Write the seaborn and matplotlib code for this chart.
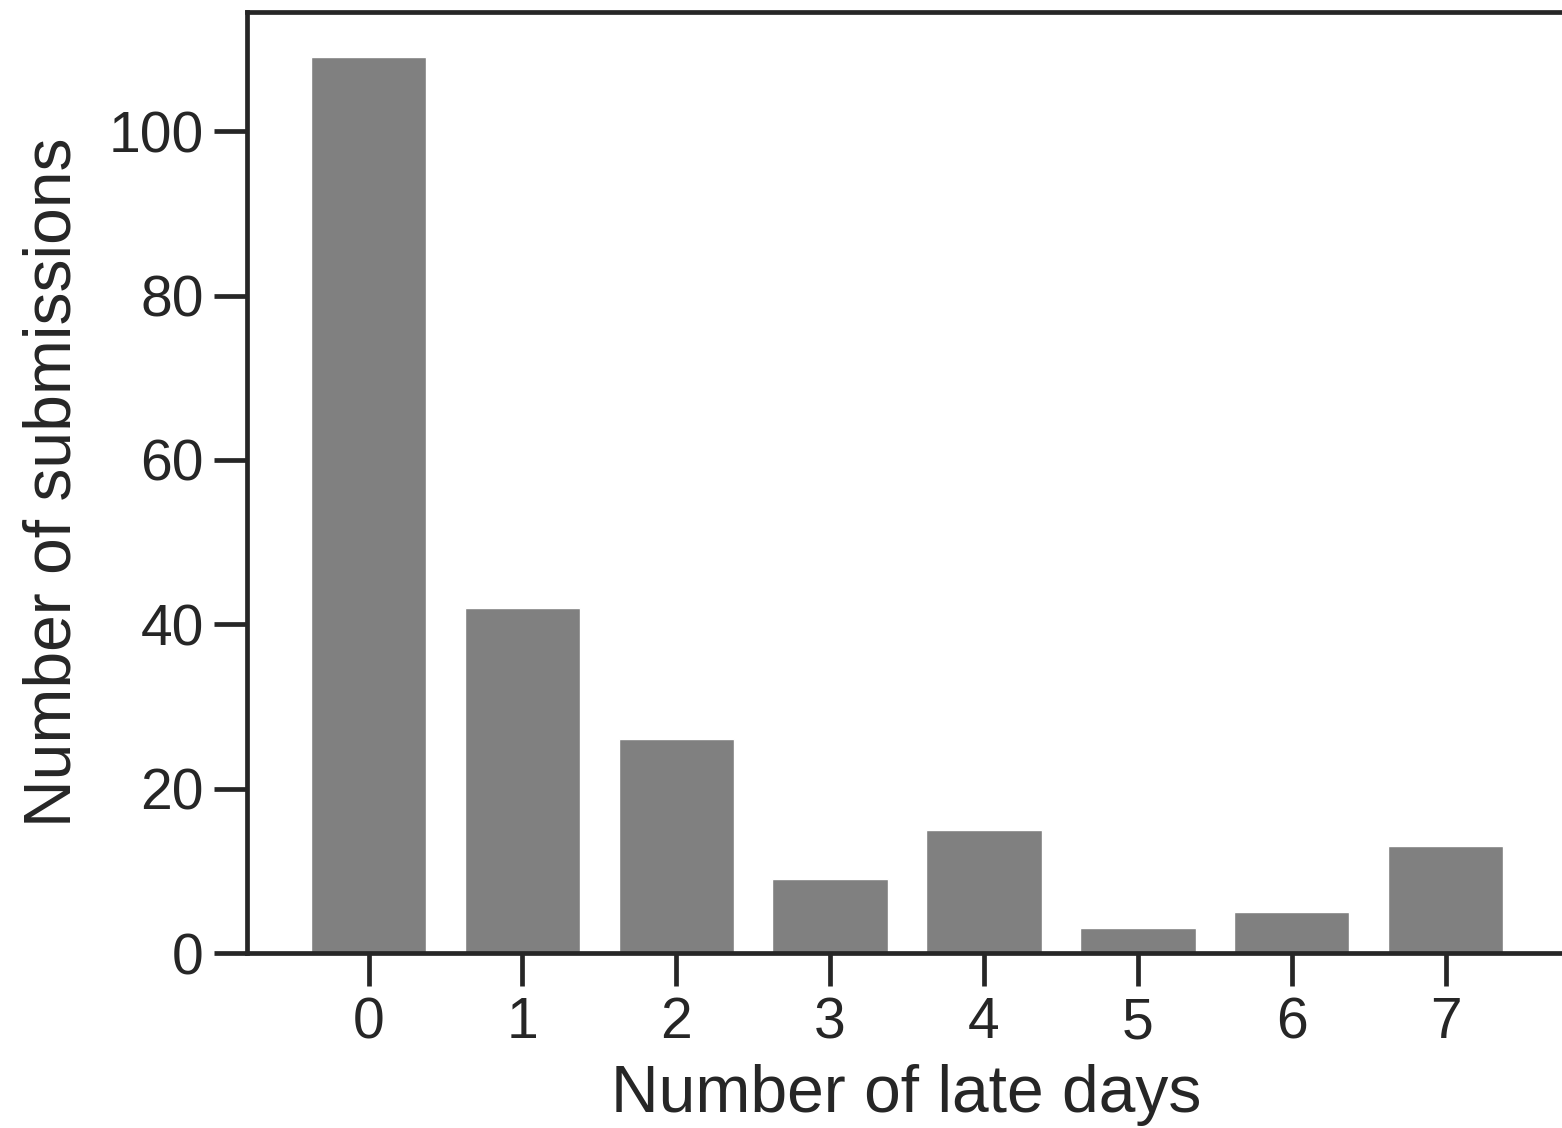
import matplotlib
matplotlib.use("Agg")
import matplotlib.pyplot as plt
import seaborn as sns
import pandas as pd

late_days = [0, 1, 2, 3, 4, 5, 6, 7]
submissions = [109, 42, 26, 9, 15, 3, 5, 13]

sns.set_theme(style="ticks")
plt.rcParams['font.family'] = ['Liberation Sans', 'DejaVu Sans']

df = pd.DataFrame({"days": [str(d) for d in late_days], "count": submissions})

fig = plt.figure(figsize=(15.62, 11.28), dpi=100)
ax = fig.add_axes([0.158, 0.1551, 0.8438, 0.8343])
sns.barplot(data=df, x="days", y="count", color="#808080", saturation=1,
            width=0.75, edgecolor="white", linewidth=1, ax=ax)
ax.set_xlim(-0.791, 7.775)
ax.set_ylim(0, 114.5)
ax.set_yticks([0, 20, 40, 60, 80, 100])
ax.set_xlabel("Number of late days", fontsize=47.5, color="#262626", labelpad=10)
ax.set_ylabel("Number of submissions", fontsize=47.5, color="#262626", labelpad=17)
ax.tick_params(axis="both", labelsize=41, length=24, width=3.4, color="#262626",
               labelcolor="#262626", pad=7)
for s in ax.spines.values():
    s.set_linewidth(3.4)
    s.set_color("#262626")
fig.savefig("out.png", dpi=100)
